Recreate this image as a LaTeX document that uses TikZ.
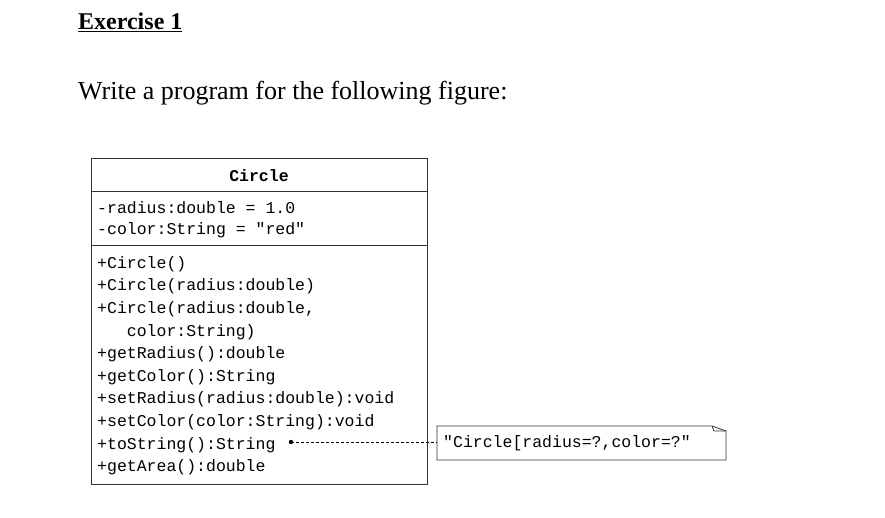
\documentclass[tikz,border=0pt]{standalone}
\usepackage{fontspec}
\setmainfont{Liberation Serif}
\setmonofont{Liberation Mono}
\begin{document}
\begin{tikzpicture}[x=1pt,y=-1pt,
  mono/.style={font=\fontsize{16.5}{18}\ttfamily,anchor=west,inner sep=0pt},
  box/.style={draw=black!80,line width=0.8pt}]
\useasboundingbox (0,0) rectangle (885,518);
\node[anchor=base west,inner sep=0pt,font=\fontsize{24}{26}\selectfont\bfseries] (title) at (78,30) {\underline{Exercise 1}};
\node[anchor=base west,inner sep=0pt,font=\fontsize{26}{28}\selectfont] (intro) at (78,100) {Write a program for the following figure:};
\draw[box] (91,158) rectangle (427,484);
\draw[box] (91,191) -- (427,191);
\draw[box] (91,245) -- (427,245);
\node[font=\fontsize{16.5}{18}\ttfamily\bfseries,inner sep=0pt] (cname) at (259,176) {Circle};
\node[mono] (a1) at (97,208) {-radius:double = 1.0};
\node[mono] (a2) at (97,230) {-color:String = "red"};
\foreach \t [count=\i from 0] in {+Circle(),+Circle(radius:double),{+Circle(radius:double,},{\ \ \ color:String)},+getRadius():double,+getColor():String,+setRadius(radius:double):void,+setColor(color:String):void,+toString():String,+getArea():double}
  \node[mono] (m\i) at (97,264+22.6*\i) {\t};
\coordinate (dot) at (291,442);
\fill (dot) circle (2.2);
\draw[box] (437,426) -- (712,426) -- (726,431) -- (726,460) -- (437,460) -- cycle;
\draw[box] (712,426) -- (714,431) -- (726,431);
\node[mono] (note) at (443,443) {"Circle[radius=?,color=?"};
\coordinate (ne) at (437,442);
\draw[line width=0.8pt,dash pattern=on 3pt off 2pt] (dot) -- (ne);
\end{tikzpicture}
\end{document}
